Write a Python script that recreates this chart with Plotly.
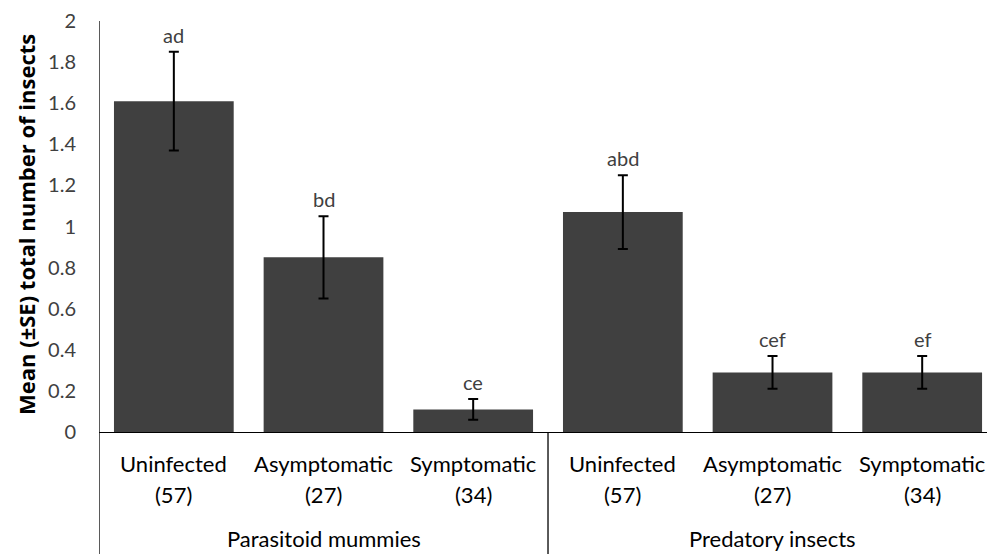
import plotly.graph_objects as go

# Insect counts per plant infection status, grouped by insect type
groups = ["Parasitoid mummies", "Predatory insects"]
statuses = ["Uninfected", "Asymptomatic", "Symptomatic"]
sample_sizes = ["(57)", "(27)", "(34)"]
means = [1.61, 0.85, 0.11, 1.07, 0.29, 0.29]
errors = [0.24, 0.20, 0.05, 0.18, 0.08, 0.08]
letters = ["ad", "bd", "ce", "abd", "cef", "ef"]

FONT = "Lato"
TXT = "#404040"

W, H = 987, 554
left, top = 99, 21
plot_w = W - left
plot_h = 411
bottom_margin = H - top - plot_h


def below(px):
    """paper y coordinate for a point px pixels under the x-axis baseline"""
    return -px / plot_h


n_per_group = len(statuses)
positions = list(range(len(means)))

fig = go.Figure()
fig.add_trace(go.Bar(
    x=positions,
    y=means,
    marker=dict(color="#404040", line=dict(width=0)),
    error_y=dict(type="data", array=errors, visible=True,
                 color="black", thickness=2, width=5),
    showlegend=False,
))

# significance letters just above each error bar
for x, m, e, t in zip(positions, means, errors, letters):
    fig.add_annotation(x=x, y=m + e, text=t, showarrow=False,
                       xref="x", yref="y", yanchor="bottom", yshift=3,
                       font=dict(family=FONT, size=20, color=TXT))

# category labels: status on the first line, sample size on the second
for x in positions:
    k = x % n_per_group
    fig.add_annotation(x=x, y=below(31), text=statuses[k], showarrow=False,
                       xref="x", yref="paper", yanchor="middle",
                       font=dict(family=FONT, size=22, color="black"))
    fig.add_annotation(x=x, y=below(63), text=sample_sizes[k], showarrow=False,
                       xref="x", yref="paper", yanchor="middle",
                       font=dict(family=FONT, size=22, color="black"))

# group labels
for g, name in enumerate(groups):
    centre = g * n_per_group + (n_per_group - 1) / 2
    fig.add_annotation(x=centre, y=below(106), text=name, showarrow=False,
                       xref="x", yref="paper", yanchor="middle",
                       font=dict(family=FONT, size=22, color="black"))

# y-axis title
fig.add_annotation(x=(26 - left) / plot_w, y=(plot_h - (225 - top)) / plot_h,
                   xref="paper", yref="paper", textangle=-90,
                   xanchor="center", yanchor="middle", showarrow=False,
                   text="<b>Mean (±SE) total number of insects</b>",
                   font=dict(family="Open Sans", size=22, color="black"))

# left axis line running down past the labels, and the group divider
fig.add_shape(type="line", xref="x", yref="paper", x0=-0.5, x1=-0.5,
              y0=1, y1=below(bottom_margin), line=dict(color="black", width=1.3))
fig.add_shape(type="line", xref="x", yref="paper",
              x0=n_per_group - 0.5, x1=n_per_group - 0.5,
              y0=0, y1=below(bottom_margin), line=dict(color="black", width=1.3))

fig.update_layout(
    width=W, height=H,
    margin=dict(l=left, r=0, t=top, b=bottom_margin),
    paper_bgcolor="white", plot_bgcolor="white",
    bargap=0.2,
    font=dict(family=FONT, size=20, color=TXT),
    xaxis=dict(
        range=[-0.5, 5.433],
        tickvals=positions, showticklabels=False,
        showline=True, linecolor="black", linewidth=1.3,
        showgrid=False, zeroline=False, ticks="",
    ),
    yaxis=dict(
        range=[0, 2], dtick=0.2, tickformat="~r",
        showline=False, showgrid=False, zeroline=False, ticks="",
        tickfont=dict(family=FONT, size=20, color=TXT),
        ticklabelstandoff=22,
    ),
)

fig.write_html("out.html")
